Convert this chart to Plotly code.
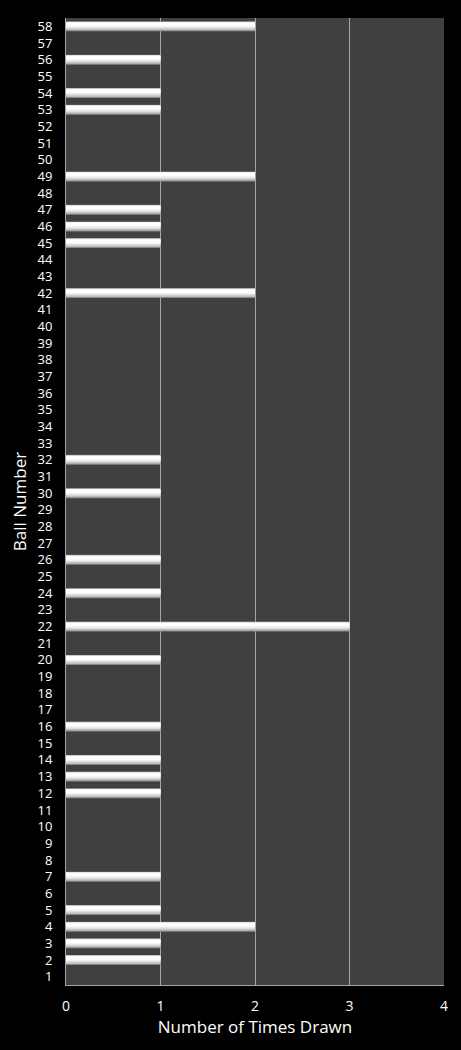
import plotly.graph_objects as go

balls = list(range(1, 59))
drawn_map = {58: 2, 56: 1, 54: 1, 53: 1, 49: 2, 47: 1, 46: 1, 45: 1, 42: 2,
             32: 1, 30: 1, 26: 1, 24: 1, 22: 3, 20: 1, 16: 1, 14: 1, 13: 1,
             12: 1, 7: 1, 5: 1, 4: 2, 3: 1, 2: 1}
times_drawn = [drawn_map.get(b, 0) for b in balls]
x_ticks = [0, 1, 2, 3, 4]

FONT = "Open Sans, DejaVu Sans, sans-serif"

fig = go.Figure()
# glossy bar built from layered bars (colour, width, offset)
layers = [
    ("#8a8a8a", 0.60, -0.30),
    ("#bdbdbd", 0.51, -0.24),
    ("#dedede", 0.41, -0.15),
    ("#f5f5f5", 0.30, -0.05),
    ("#ffffff", 0.19, 0.03),
]
for color, w, off in layers:
    fig.add_trace(go.Bar(
        x=times_drawn, y=balls, orientation="h",
        marker=dict(color=color, line=dict(width=0)),
        width=w, offset=off, hoverinfo="skip", showlegend=False,
    ))

fig.update_layout(
    width=461, height=1050,
    paper_bgcolor="black", plot_bgcolor="#404040",
    barmode="overlay",
    margin=dict(l=66, r=17, t=18, b=65),
    font=dict(family=FONT, color="white", size=14),
    xaxis=dict(
        range=[0, 4], tickvals=x_ticks, ticktext=[str(v) for v in x_ticks],
        showgrid=True, gridcolor="#a6a6a6", gridwidth=1,
        showline=True, linecolor="#a6a6a6", linewidth=1, mirror=False,
        zeroline=False, ticks="", ticklen=0, ticklabelstandoff=8,
        tickfont=dict(size=14, color="white"),
        title=dict(text="Number of Times Drawn", font=dict(size=17, color="white"), standoff=6),
    ),
    yaxis=dict(
        range=[0.5, 58.5], tickvals=balls, ticktext=[str(b) for b in balls],
        showgrid=False, showline=True, linecolor="#a6a6a6", linewidth=1,
        zeroline=False, ticks="", ticklabelstandoff=10,
        tickfont=dict(size=13, color="white"),
        title=dict(text="Ball Number", font=dict(size=17, color="white"), standoff=6),
    ),
)

fig.write_html("out.html", config={"displayModeBar": False},
               post_script="document.body.style.margin='0';document.body.style.background='black';")
